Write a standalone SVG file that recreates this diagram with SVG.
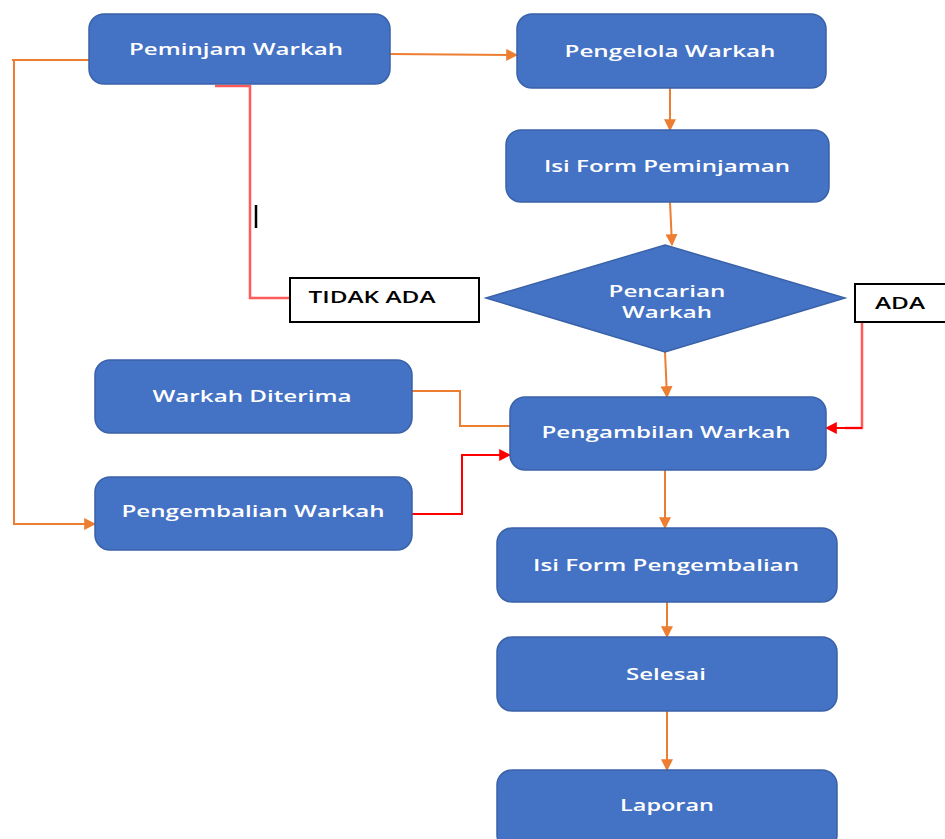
<svg xmlns="http://www.w3.org/2000/svg" width="945" height="839" viewBox="0 0 945 839">
<style>
.n{fill:#4472C4;stroke:#3A62A8;stroke-width:1.5}
.t{fill:#fff;font-family:"Open Sans","DejaVu Sans",sans-serif;font-size:17px;font-weight:600;text-anchor:middle}
.lb{fill:#fff;stroke:#000;stroke-width:2}
.lt{fill:#000;font-family:"Open Sans","Liberation Sans",sans-serif;font-size:16px;font-weight:600;text-anchor:middle}
.o{fill:none;stroke:#ED7D31;stroke-width:2}
.r{fill:none;stroke:#FF5A5A;stroke-width:2.5}
.rd{fill:none;stroke:#FF0000;stroke-width:2}
</style>
<defs>
<marker id="ao" viewBox="0 0 10 10" refX="9" refY="5" markerWidth="6" markerHeight="6" orient="auto"><path d="M0,0L10,5L0,10z" fill="#ED7D31"/></marker>
<marker id="ar" viewBox="0 0 10 10" refX="9" refY="5" markerWidth="6" markerHeight="6" orient="auto"><path d="M0,0L10,5L0,10z" fill="#FF0000"/></marker>
</defs>
<g id="connectors">
<path class="o" d="M390,54 L517,55" marker-end="url(#ao)"/>
<path class="o" d="M670,88 L670,130" marker-end="url(#ao)"/>
<path class="o" d="M670,202 L672,245" marker-end="url(#ao)"/>
<path class="o" d="M665,352 L667,397" marker-end="url(#ao)"/>
<path class="o" d="M89,60 L12,60 L14,60 L14,524 L95,524" marker-end="url(#ao)"/>
<path class="r" d="M215,86 L250,86 L250,298 L290,298"/>
<path d="M256,205 L256,228" stroke="#000" stroke-width="2.5"/>
<path class="r" d="M862,322 L862,428 L845,428"/>
<path class="rd" d="M862,428 L826,428" marker-end="url(#ar)"/>
<path class="o" d="M412,391 L460,391 L460,426 L510,426"/>
<path class="rd" d="M412,514 L462,514 L462,455 L510,455" marker-end="url(#ar)"/>
<path class="o" d="M665,470 L665,528" marker-end="url(#ao)"/>
<path class="o" d="M667,602 L667,637" marker-end="url(#ao)"/>
<path class="o" d="M667,711 L667,770" marker-end="url(#ao)"/>
</g>
<g id="peminjam"><rect class="n" x="89" y="14" width="301" height="70" rx="15"/><text class="t" x="236" y="55" textLength="214" lengthAdjust="spacingAndGlyphs">Peminjam Warkah</text></g>
<g id="pengelola"><rect class="n" x="517" y="14" width="309" height="74" rx="15"/><text class="t" x="670" y="57" textLength="211" lengthAdjust="spacingAndGlyphs">Pengelola Warkah</text></g>
<g id="isiformpeminjaman"><rect class="n" x="506" y="130" width="323" height="72" rx="15"/><text class="t" x="667" y="172" textLength="246" lengthAdjust="spacingAndGlyphs">Isi Form Peminjaman</text></g>
<g id="pencarian"><path class="n" d="M665,245 L845,298 L665,352 L486,298 Z"/><text class="t" x="667" y="297" textLength="117" lengthAdjust="spacingAndGlyphs">Pencarian</text><text class="t" x="667" y="318" textLength="90" lengthAdjust="spacingAndGlyphs">Warkah</text></g>
<g id="tidakada"><rect class="lb" x="290" y="278" width="189" height="44"/><text class="lt" x="372" y="303" textLength="127" lengthAdjust="spacingAndGlyphs">TIDAK ADA</text></g>
<g id="ada"><rect class="lb" x="855" y="284" width="100" height="38"/><text class="lt" x="900" y="309" textLength="50" lengthAdjust="spacingAndGlyphs">ADA</text></g>
<g id="diterima"><rect class="n" x="95" y="360" width="317" height="73" rx="15"/><text class="t" x="252" y="402" textLength="199" lengthAdjust="spacingAndGlyphs">Warkah Diterima</text></g>
<g id="pengembalian"><rect class="n" x="95" y="477" width="317" height="73" rx="15"/><text class="t" x="253" y="517" textLength="263" lengthAdjust="spacingAndGlyphs">Pengembalian Warkah</text></g>
<g id="pengambilan"><rect class="n" x="510" y="397" width="316" height="73" rx="15"/><text class="t" x="666" y="438" textLength="249" lengthAdjust="spacingAndGlyphs">Pengambilan Warkah</text></g>
<g id="isiformpengembalian"><rect class="n" x="497" y="528" width="340" height="74" rx="15"/><text class="t" x="666" y="571" textLength="266" lengthAdjust="spacingAndGlyphs">Isi Form Pengembalian</text></g>
<g id="selesai"><rect class="n" x="497" y="637" width="340" height="74" rx="15"/><text class="t" x="666" y="680" textLength="80" lengthAdjust="spacingAndGlyphs">Selesai</text></g>
<g id="laporan"><rect class="n" x="497" y="770" width="340" height="80" rx="15"/><text class="t" x="667" y="811" textLength="94" lengthAdjust="spacingAndGlyphs">Laporan</text></g>
</svg>
